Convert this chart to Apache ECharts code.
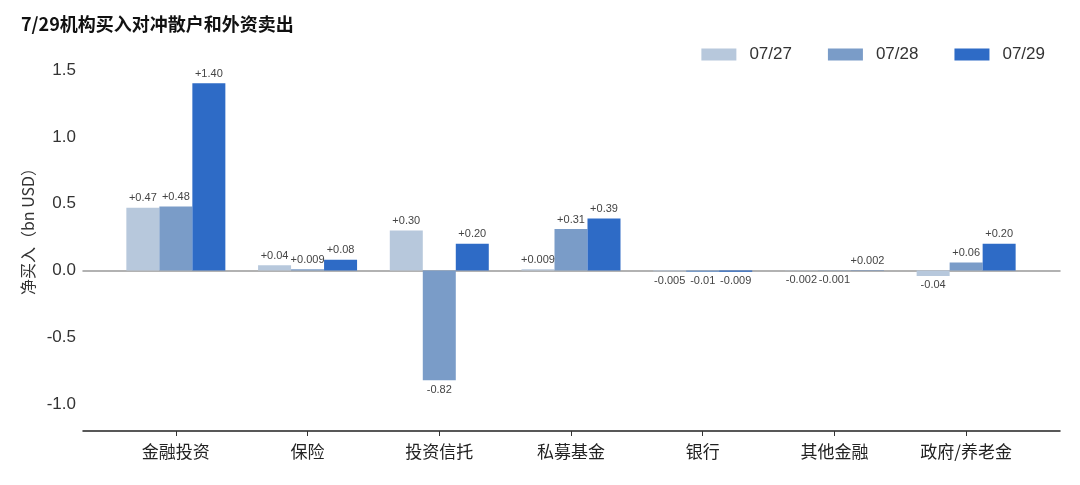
<!DOCTYPE html>
<html>
<head>
<meta charset="utf-8">
<script src="https://cdn.jsdelivr.net/npm/echarts@6/dist/echarts.min.js"></script>
<style>
  html, body { margin: 0; padding: 0; background: #fff; }
  #chart { width: 1080px; height: 485px; }
</style>
</head>
<body>
<div id="chart"></div>
<script>
var categories = ['金融投资', '保险', '投资信托', '私募基金', '银行', '其他金融', '政府/养老金'];
var seriesNames = ['07/27', '07/28', '07/29'];
var values0727 = [0.47, 0.04, 0.30, 0.009, -0.005, -0.002, -0.04];
var values0728 = [0.48, 0.009, -0.82, 0.31, -0.01, -0.001, 0.06];
var values0729 = [1.40, 0.08, 0.20, 0.39, -0.009, 0.002, 0.20];
var colors = ['#b7c8dc', '#7a9cc8', '#2e6bc6'];

var numFont = '"Liberation Sans", Arial, "Noto Sans CJK SC", sans-serif';
var cjkFont = '"Noto Sans CJK SC", "Liberation Sans", sans-serif';

function fmt(v) {
  var s = Math.abs(v) < 0.01 ? Math.abs(v).toFixed(3) : Math.abs(v).toFixed(2);
  return (v < 0 ? '-' : '+') + s;
}

function makeSeries(name, vals, color) {
  return {
    name: name,
    type: 'bar',
    xAxisIndex: 2,
    yAxisIndex: 1,
    barWidth: 33,
    barGap: '0%',
    itemStyle: { color: color },
    data: vals.map(function (v) {
      return { value: v, label: { position: v < 0 ? 'bottom' : 'top' } };
    }),
    label: {
      show: true,
      distance: 4,
      fontSize: 11,
      color: '#444',
      fontFamily: numFont,
      formatter: function (p) { return fmt(p.value); }
    }
  };
}

var chart = echarts.init(document.getElementById('chart'));

var option = {
  backgroundColor: '#fff',
  animation: false,
  title: {
    text: '7/29机构买入对冲散户和外资卖出',
    left: 16,
    top: 10,
    textStyle: { fontSize: 18, fontWeight: 'bold', color: '#111', fontFamily: cjkFont }
  },
  legend: {
    data: seriesNames,
    right: 30,
    top: 41,
    itemWidth: 35,
    itemHeight: 12,
    itemGap: 36,
    icon: 'rect',
    textStyle: { fontSize: 17, color: '#333', fontFamily: numFont, padding: [0, 0, 0, 8] }
  },
  grid: [
    { left: 83, right: 20, top: 70, bottom: 54 },
    { left: 110, right: 48, top: 70, bottom: 54 }
  ],
  xAxis: [
    {
      type: 'category', gridIndex: 0, position: 'bottom', data: categories,
      axisLine: { onZero: false, lineStyle: { color: '#222', width: 1.5 } },
      axisTick: { show: false }, axisLabel: { show: false }
    },
    {
      type: 'category', gridIndex: 0, position: 'bottom', data: categories,
      axisLine: { onZero: true, lineStyle: { color: '#999', width: 1.5 } },
      axisTick: { show: false }, axisLabel: { show: false }
    },
    {
      type: 'category', gridIndex: 1, position: 'bottom', data: categories,
      axisLine: { show: false, onZero: false },
      axisTick: { show: true, alignWithLabel: true, length: 5, lineStyle: { color: '#333' } },
      axisLabel: { fontSize: 17, color: '#222', margin: 12, fontFamily: cjkFont }
    }
  ],
  yAxis: [
    {
      type: 'value', gridIndex: 0, min: -1.2, max: 1.5,
      name: '净买入（bn USD）',
      nameLocation: 'middle',
      nameRotate: 90,
      nameGap: 34,
      nameTextStyle: { fontSize: 16, color: '#333', fontFamily: cjkFont, padding: [0, 0, 0, 46] },
      axisLine: { show: false },
      axisTick: { show: false },
      splitLine: { show: false },
      axisLabel: {
        showMinLabel: false,
        fontSize: 17, color: '#333', margin: 7, fontFamily: numFont,
        formatter: function (v) { return v.toFixed(1); }
      }
    },
    {
      type: 'value', gridIndex: 1, min: -1.2, max: 1.5,
      axisLine: { show: false }, axisTick: { show: false },
      splitLine: { show: false }, axisLabel: { show: false }
    }
  ],
  series: [
    makeSeries(seriesNames[0], values0727, colors[0]),
    makeSeries(seriesNames[1], values0728, colors[1]),
    makeSeries(seriesNames[2], values0729, colors[2])
  ]
};

chart.setOption(option);
</script>
</body>
</html>
